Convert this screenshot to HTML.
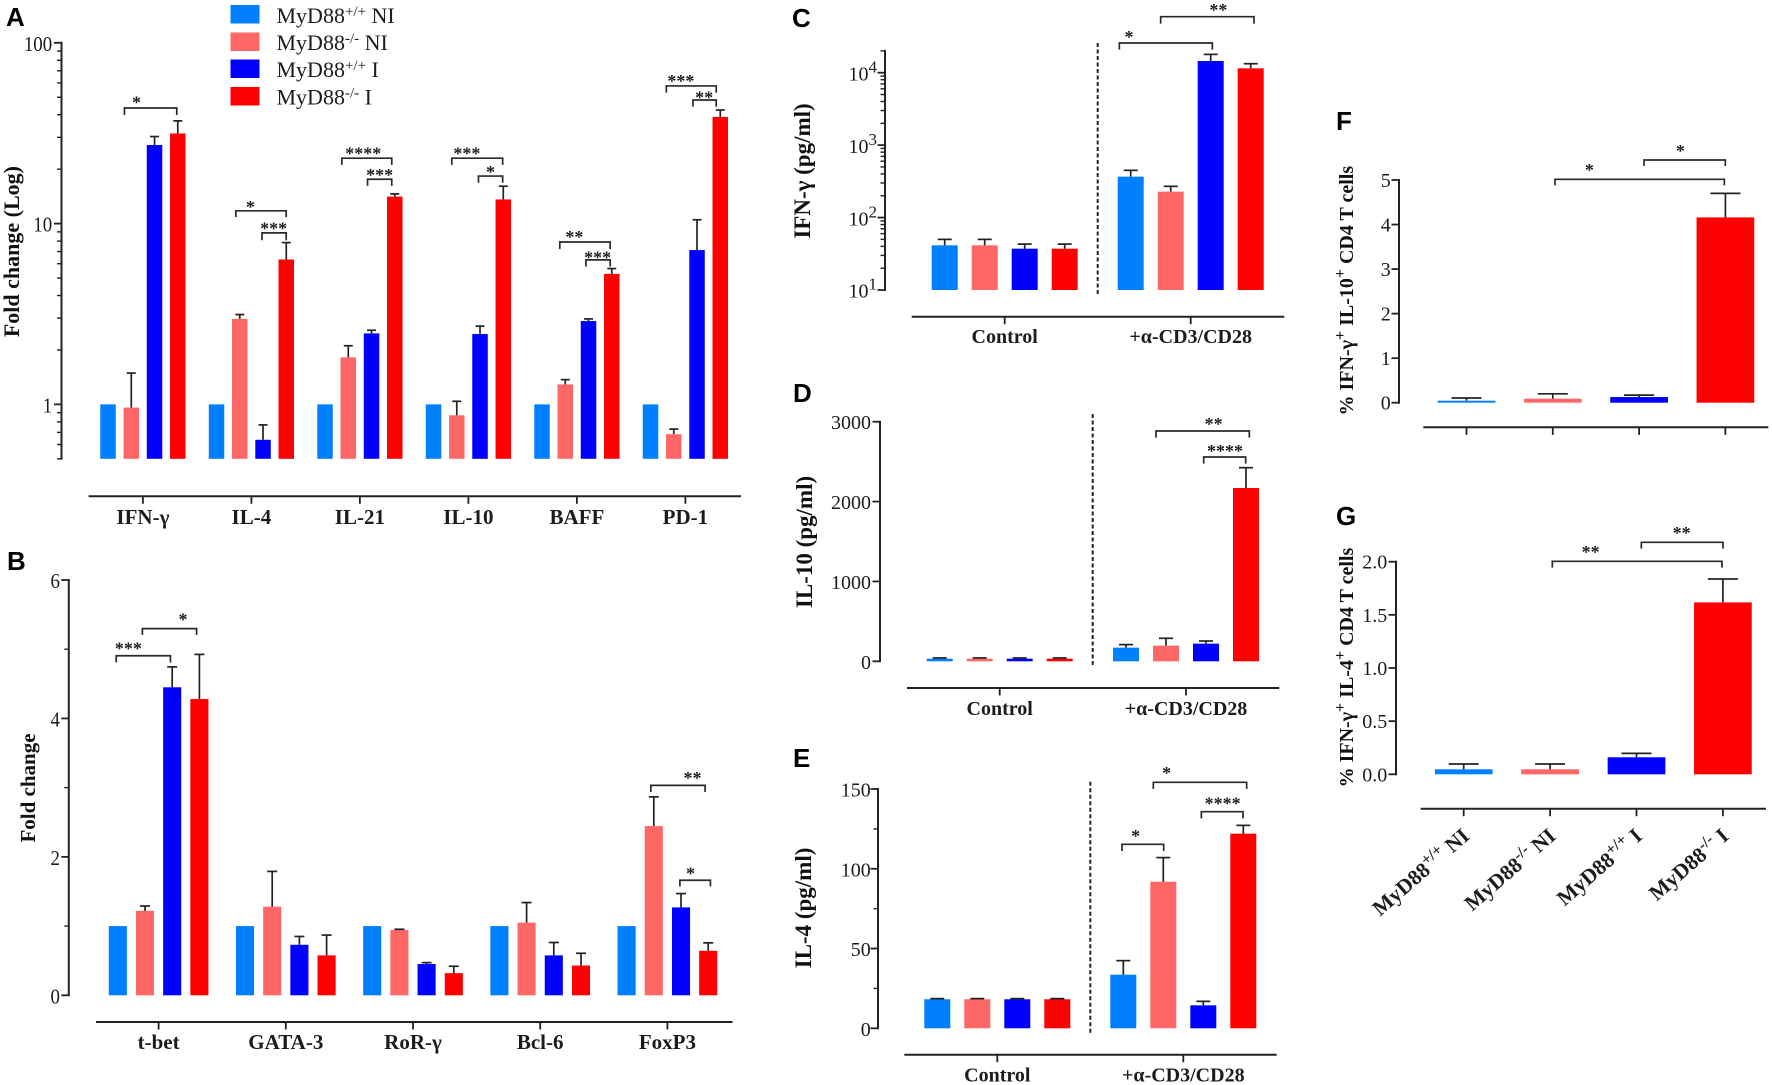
<!DOCTYPE html>
<html lang="en">
<head>
<meta charset="utf-8">
<title>MyD88 cytokine bar charts</title>
<style>
html,body{margin:0;padding:0;background:#fff;}
svg{display:block;}
text{font-family:"Liberation Serif",serif;fill:#1c1c1c;}
.panel-letter{font-family:"Liberation Sans",sans-serif;font-weight:700;font-size:26px;fill:#000;}
.title{font-weight:700;text-anchor:middle;fill:#111;}
.legend-text{font-size:22px;}
</style>
</head>
<body>
<svg id="figure" xmlns="http://www.w3.org/2000/svg" width="1772" height="1085" viewBox="0 0 1772 1085">
  <rect width="1772" height="1085" fill="#fff"/>

  <text class="panel-letter" x="6" y="26">A</text>
  <text class="panel-letter" x="7" y="570">B</text>
  <text class="panel-letter" x="792" y="27">C</text>
  <text class="panel-letter" x="793" y="402">D</text>
  <text class="panel-letter" x="793" y="767">E</text>
  <text class="panel-letter" x="1336" y="130">F</text>
  <text class="panel-letter" x="1336" y="525">G</text>

  <g>
    <g>
      <rect x="230.5" y="5" width="29" height="18.5" fill="#0080ff"/>
      <text class="legend-text" x="276.5" y="23">MyD88<tspan dy="-7" font-size="15">+/+</tspan><tspan dy="7"> NI</tspan></text>
    </g>
    <g>
      <rect x="230.5" y="32.5" width="29" height="18.5" fill="#ff6666"/>
      <text class="legend-text" x="276.5" y="50">MyD88<tspan dy="-7" font-size="15">-/-</tspan><tspan dy="7"> NI</tspan></text>
    </g>
    <g>
      <rect x="230.5" y="59.5" width="29" height="18.5" fill="#0000ff"/>
      <text class="legend-text" x="276.5" y="77">MyD88<tspan dy="-7" font-size="15">+/+</tspan><tspan dy="7"> I</tspan></text>
    </g>
    <g>
      <rect x="230.5" y="87" width="29" height="18.5" fill="#ff0000"/>
      <text class="legend-text" x="276.5" y="104.5">MyD88<tspan dy="-7" font-size="15">-/-</tspan><tspan dy="7"> I</tspan></text>
    </g>
  </g>

  <text class="title" font-size="22" transform="translate(19 251.6) rotate(-90)">Fold change (Log)</text>
  <text class="title" font-size="21" transform="translate(35 788) rotate(-90)">Fold change</text>
  <text class="title" font-size="23" transform="translate(810 171) rotate(-90)">IFN-γ (pg/ml)</text>
  <text class="title" font-size="23" transform="translate(812 542) rotate(-90)">IL-10 (pg/ml)</text>
  <text class="title" font-size="23" transform="translate(811 908) rotate(-90)">IL-4 (pg/ml)</text>
  <text class="title" font-size="20" transform="translate(1353 290.7) rotate(-90)">% IFN-γ<tspan dy="-8" font-size="16">+</tspan><tspan dy="8"> IL-10</tspan><tspan dy="-8" font-size="16">+</tspan><tspan dy="8"> CD4 T cells</tspan></text>
  <text class="title" font-size="20" transform="translate(1353 667.6) rotate(-90)">% IFN-γ<tspan dy="-8" font-size="16">+</tspan><tspan dy="8"> IL-4</tspan><tspan dy="-8" font-size="16">+</tspan><tspan dy="8"> CD4 T cells</tspan></text>
</svg>

<script>
// ---------- shared series ----------
const seriesNames = ['wt-ni', 'ko-ni', 'wt-i', 'ko-i'];
const seriesColors = ['#0080ff', '#ff6666', '#0000ff', '#ff0000'];

// ---------- panel A ----------
const aCategories = ['IFN-γ', 'IL-4', 'IL-21', 'IL-10', 'BAFF', 'PD-1'];
const aMeans = [
  [1, 0.96, 27.2, 31.5],
  [1, 2.97, 0.637, 6.33],
  [1, 1.82, 2.47, 14.1],
  [1, 0.87, 2.45, 13.6],
  [1, 1.29, 2.89, 5.27],
  [1, 0.684, 7.14, 38.9]
];
const aErrorTops = [
  [null, 1.49, 30.3, 37],
  [null, 3.14, 0.77, 7.85],
  [null, 2.11, 2.57, 14.6],
  [null, 1.04, 2.71, 16.1],
  [null, 1.37, 2.97, 5.64],
  [null, 0.73, 10.5, 42.5]
];
const aMajorTicks = [1, 10, 100];
const aMinorTicks = [0.5, 0.6, 0.7, 0.8, 0.9, 2, 3, 4, 5, 6, 7, 8, 9, 20, 30, 40, 50, 60, 70, 80, 90];
const aTickLabels = ['1', '10', '100'];

// ---------- panel B ----------
const bCategories = ['t-bet', 'GATA-3', 'RoR-γ', 'Bcl-6', 'FoxP3'];
const bMeans = [
  [1, 1.22, 4.45, 4.28],
  [1, 1.28, 0.73, 0.577],
  [1, 0.944, 0.452, 0.32],
  [1, 1.05, 0.577, 0.43],
  [1, 2.445, 1.27, 0.643]
];
const bErrorTops = [
  [null, 1.29, 4.745, 4.925],
  [null, 1.79, 0.85, 0.87],
  [null, 0.954, 0.472, 0.42],
  [null, 1.34, 0.763, 0.607],
  [null, 2.867, 1.47, 0.758]
];
const bMajorTicks = [0, 2, 4, 6];
const bMinorTicks = [1, 3, 5];
const bTickLabels = ['0', '2', '4', '6'];

// ---------- panel C ----------
const cCategories = ['Control', '+α-CD3/CD28'];
const cMeans = [
  [41.4, 41.4, 37.2, 37.2],
  [367, 228, 14500, 11490]
];
const cErrorTops = [
  [50, 50, 43, 43],
  [449, 270, 17900, 13300]
];
const cMajorTicks = [10, 100, 1000, 10000];
const cMinorTicks = [20, 30, 40, 50, 60, 70, 80, 90, 200, 300, 400, 500, 600, 700, 800, 900, 2000, 3000, 4000, 5000, 6000, 7000, 8000, 9000, 20000];
const cTickExponents = ['1', '2', '3', '4'];

// ---------- panel D ----------
const dCategories = ['Control', '+α-CD3/CD28'];
const dMeans = [
  [33, 33, 33, 33],
  [171, 196, 221, 2170]
];
const dErrorTops = [
  [42, 42, 42, 42],
  [209, 288, 254, 2424]
];
const dMajorTicks = [0, 1000, 2000, 3000];
const dTickLabels = ['0', '1000', '2000', '3000'];

// ---------- panel E ----------
const eCategories = ['Control', '+α-CD3/CD28'];
const eMeans = [
  [18.2, 18.2, 18.2, 18.2],
  [33.6, 91.9, 14.4, 122]
];
const eErrorTops = [
  [18.6, 18.6, 18.6, 18.6],
  [42.4, 107, 16.9, 127.2]
];
const eMajorTicks = [0, 50, 100, 150];
const eMinorTicks = [25, 75, 125];
const eTickLabels = ['0', '50', '100', '150'];

// ---------- panel F ----------
const fMeans = [0.045, 0.09, 0.127, 4.16];
const fErrorTops = [0.105, 0.2, 0.17, 4.7];
const fMajorTicks = [0, 1, 2, 3, 4, 5];
const fTickLabels = ['0', '1', '2', '3', '4', '5'];

// ---------- panel G ----------
const gMeans = [0.047, 0.047, 0.16, 1.617];
const gErrorTops = [0.097, 0.097, 0.197, 1.837];
const gMajorTicks = [0, 0.5, 1, 1.5, 2];
const gTickLabels = ['0.0', '0.5', '1.0', '1.5', '2.0'];
const gGenotypes = ['+/+', '-/-', '+/+', '-/-'];
const gConditions = [' NI', ' NI', ' I', ' I'];

// ---------- helpers ----------
const SVG_NS = 'http://www.w3.org/2000/svg';
const root = document.getElementById('figure');
const INK = '#222';

function add(parent, tag, attrs, text) {
  const el = document.createElementNS(SVG_NS, tag);
  for (const k in attrs) el.setAttribute(k, attrs[k]);
  if (text !== undefined) el.textContent = text;
  parent.appendChild(el);
  return el;
}
function linearScale(dMin, dMax, yBottom, yTop) {
  return v => yBottom + (v - dMin) / (dMax - dMin) * (yTop - yBottom);
}
function logScale(dMin, dMax, yBottom, yTop) {
  const a = Math.log10(dMin), b = Math.log10(dMax);
  return v => yBottom + (Math.log10(v) - a) / (b - a) * (yTop - yBottom);
}
function drawYAxis(g, cfg) {
  const axis = add(g, 'line', {x1: cfg.axisX, x2: cfg.axisX, y1: cfg.yScale(cfg.domain[1]), y2: cfg.yScale(cfg.domain[0]), stroke: INK, 'stroke-width': 2, 'stroke-linecap': 'square'});
  
  
  (cfg.minor || []).forEach(v => {
    const t = add(g, 'line', {x1: cfg.axisX - 4.5, x2: cfg.axisX, y1: cfg.yScale(v), y2: cfg.yScale(v), stroke: INK, 'stroke-width': 1.4});
    
    
  });
  cfg.major.forEach((v, i) => {
    const y = cfg.yScale(v);
    const t = add(g, 'line', {x1: cfg.axisX - 7.5, x2: cfg.axisX, y1: y, y2: y, stroke: INK, 'stroke-width': 1.8});
    
    
    const lab = add(g, 'text', {'text-anchor': 'end', 'font-size': cfg.fontSize, transform: 'translate(' + cfg.labelX + ' ' + (y + cfg.labelDy) + ') scale(' + (cfg.squeeze || 1) + ' 1)'});
    
    
    if (cfg.exponents) {
      add(lab, 'tspan', {}, '10');
      add(lab, 'tspan', {dy: -8, 'font-size': 17}, cfg.exponents[i]);
    } else {
      lab.textContent = cfg.labels[i];
    }
  });
}
function drawXAxis(g, cfg) {
  const axis = add(g, 'line', {x1: cfg.x1, x2: cfg.x2, y1: cfg.y, y2: cfg.y, stroke: INK, 'stroke-width': 2});
  
  
  cfg.centers.forEach((cx, i) => {
    const t = add(g, 'line', {x1: cx, x2: cx, y1: cfg.y, y2: cfg.y + 7.5, stroke: INK, 'stroke-width': 1.8});
    
    
    if (cfg.labels) {
      const lab = add(g, 'text', {x: cx, y: cfg.labelY, 'text-anchor': 'middle', 'font-size': cfg.fontSize, 'font-weight': 700, fill: '#111'}, cfg.labels[i]);
      
      
    }
  });
}
function drawBar(g, xLeft, width, yTop, yBase, color, label) {
  const bar = add(g, 'rect', {x: xLeft, y: yTop, width: width, height: Math.max(0, yBase - yTop), fill: color});
  
  
}
function drawError(g, cx, yMean, yTop, capWidth, label) {
  const stem = add(g, 'line', {x1: cx, x2: cx, y1: yMean, y2: yTop, stroke: INK, 'stroke-width': 1.7});
  
  
  const cap = add(g, 'line', {x1: cx - capWidth / 2, x2: cx + capWidth / 2, y1: yTop, y2: yTop, stroke: INK, 'stroke-width': 1.7});
  
  
}
function drawGroupedBars(g, cfg) {
  const base = cfg.yScale(cfg.domain[0]);
  cfg.means.forEach((row, gi) => {
    row.forEach((v, si) => {
      const cx = cfg.centers[gi] + (si - 1.5) * cfg.pitch;
      const label = 'group' + gi + '-' + seriesNames[si];
      drawBar(g, cx - cfg.barWidth / 2, cfg.barWidth, cfg.yScale(v), base, seriesColors[si], label);
      const top = cfg.errors[gi][si];
      if (top !== null) drawError(g, cx, cfg.yScale(v), cfg.yScale(top), cfg.cap, label);
    });
  });
}
function drawSingleBars(g, cfg) {
  const base = cfg.yScale(0);
  cfg.means.forEach((v, i) => {
    const cx = cfg.centers[i];
    drawBar(g, cx - cfg.barWidth / 2, cfg.barWidth, cfg.yScale(v), base, seriesColors[i], seriesNames[i]);
    drawError(g, cx, cfg.yScale(v), cfg.yScale(cfg.errors[i]), cfg.cap, seriesNames[i]);
  });
}
function drawDivider(g, x, y1, y2) {
  const d = add(g, 'line', {x1: x, x2: x, y1: y1, y2: y2, stroke: INK, 'stroke-width': 2, 'stroke-dasharray': '4 2.5'});
  
  
}
// map = crop scale/offset used to read annotation positions from the reference
function bracket(g, m, x1, x2, y, yDrop, stars, sx, sy) {
  const X = v => v / m.sx + m.ox, Y = v => v / m.sy + m.oy;
  const p = add(g, 'path', {d: 'M' + X(x1) + ' ' + Y(yDrop) + 'L' + X(x1) + ' ' + Y(y) + 'L' + X(x2) + ' ' + Y(y) + 'L' + X(x2) + ' ' + Y(yDrop), fill: 'none', stroke: '#2a2a2a', 'stroke-width': 1.7});
  
  
  const s = add(g, 'text', {x: X(sx), y: Y(sy) + 8.5, 'text-anchor': 'middle', 'font-size': 18, 'font-weight': 700, fill: '#333'}, stars);
  
  
}
function panelGroup(name) {
  const g = add(root, 'g', {});
  
  
  return g;
}
function evenCenters(n, first, step) {
  const out = [];
  for (let i = 0; i < n; i++) out.push(first + i * step);
  return out;
}

// ---------- panel A ----------
(function () {
  const g = panelGroup('panel-a-chart');
  const domain = [0.5, 100];
  const yScale = logScale(0.5, 100, 458.8, 42.8);
  const centers = evenCenters(aCategories.length, 142.9, 108.5);
  drawYAxis(g, {axisX: 61.5, yScale, domain, major: aMajorTicks, minor: aMinorTicks, labels: aTickLabels, labelX: 52.2, labelDy: 8, fontSize: 21, squeeze: 0.9});
  drawXAxis(g, {x1: 88.6, x2: 741, y: 496.3, centers, labels: aCategories, labelY: 524, fontSize: 21});
  drawGroupedBars(g, {means: aMeans, errors: aErrorTops, yScale, domain, centers, pitch: 23.25, barWidth: 15.5, cap: 9});
  const m = {sx: 2.065, sy: 2.851, ox: 0, oy: 0};
  bracket(g, m, 257, 365, 308, 328, '*', 282, 285);
  bracket(g, m, 487, 591, 601, 619, '*', 517, 583);
  bracket(g, m, 541, 591, 664, 685, '***', 565, 645);
  bracket(g, m, 706, 809, 451, 470, '****', 750, 430);
  bracket(g, m, 759, 809, 511, 530, '***', 784, 492);
  bracket(g, m, 933, 1038, 451, 470, '***', 964, 430);
  bracket(g, m, 988, 1038, 502, 521, '*', 1013, 483);
  bracket(g, m, 1156, 1260, 690, 710, '**', 1186, 669);
  bracket(g, m, 1210, 1260, 741, 760, '***', 1234, 727);
  bracket(g, m, 1376, 1479, 245, 264, '***', 1406, 224);
  bracket(g, m, 1431, 1479, 285, 304, '**', 1454, 271);
})();

// ---------- panel B ----------
(function () {
  const g = panelGroup('panel-b-chart');
  const domain = [0, 6];
  const yScale = linearScale(0, 6, 995.3, 580);
  const centers = evenCenters(bCategories.length, 158.6, 127.2);
  drawYAxis(g, {axisX: 68.8, yScale, domain, major: bMajorTicks, minor: bMinorTicks, labels: bTickLabels, labelX: 60, labelDy: 8, fontSize: 21, squeeze: 0.9});
  drawXAxis(g, {x1: 96, x2: 732.5, y: 1022, centers, labels: bCategories, labelY: 1049, fontSize: 21});
  drawGroupedBars(g, {means: bMeans, errors: bErrorTops, yScale, domain, centers, pitch: 27.2, barWidth: 18.1, cap: 10});
  const m = {sx: 2.065, sy: 2.877, ox: 0, oy: 540};
  bracket(g, m, 240, 352, 333, 352, '***', 265, 305);
  bracket(g, m, 294, 406, 255, 273, '*', 378, 222);
  bracket(g, m, 1344, 1456, 706, 725, '**', 1430, 677);
  bracket(g, m, 1404, 1467, 979, 997, '*', 1426, 953);
})();

// ---------- panel C ----------
(function () {
  const g = panelGroup('panel-c-chart');
  const domain = [10, 20000];
  const yScale = logScale(10, 10000, 290, 72.7);
  const centers = [1004.7, 1190.7];
  drawYAxis(g, {axisX: 885, yScale, domain, major: cMajorTicks, minor: cMinorTicks, exponents: cTickExponents, labelX: 877, labelDy: 7.7, fontSize: 20});
  drawXAxis(g, {x1: 911.7, x2: 1284.3, y: 316.7, centers, labels: cCategories, labelY: 343, fontSize: 20});
  drawGroupedBars(g, {means: cMeans, errors: cErrorTops, yScale, domain, centers, pitch: 40, barWidth: 26, cap: 14});
  drawDivider(g, 1097.7, 43, 295);
  const m = {sx: 3, sy: 3, ox: 770, oy: 0};
  bracket(g, m, 1048, 1327, 129, 149, '*', 1077, 103);
  bracket(g, m, 1172, 1452, 50, 71, '**', 1345, 22);
})();

// ---------- panel D ----------
(function () {
  const g = panelGroup('panel-d-chart');
  const domain = [0, 3000];
  const yScale = linearScale(0, 3000, 661.3, 421.7);
  const centers = [999.7, 1186];
  drawYAxis(g, {axisX: 880, yScale, domain, major: dMajorTicks, labels: dTickLabels, labelX: 871, labelDy: 7.5, fontSize: 20});
  drawXAxis(g, {x1: 907, x2: 1279.3, y: 688, centers, labels: dCategories, labelY: 715, fontSize: 20});
  drawGroupedBars(g, {means: dMeans, errors: dErrorTops, yScale, domain, centers, pitch: 40, barWidth: 26, cap: 14});
  drawDivider(g, 1092.7, 414, 665.7);
  const m = {sx: 3, sy: 3, ox: 770, oy: 370};
  bracket(g, m, 1158, 1438, 183, 203, '**', 1331, 155);
  bracket(g, m, 1301, 1427, 261, 281, '****', 1365, 236);
})();

// ---------- panel E ----------
(function () {
  const g = panelGroup('panel-e-chart');
  const domain = [0, 150];
  const yScale = linearScale(0, 150, 1028.3, 789);
  const centers = [997.3, 1183.3];
  drawYAxis(g, {axisX: 878, yScale, domain, major: eMajorTicks, minor: eMinorTicks, labels: eTickLabels, labelX: 870.7, labelDy: 7.5, fontSize: 20});
  drawXAxis(g, {x1: 904.3, x2: 1276.7, y: 1054.7, centers, labels: eCategories, labelY: 1081.7, fontSize: 20});
  drawGroupedBars(g, {means: eMeans, errors: eErrorTops, yScale, domain, centers, pitch: 40, barWidth: 26, cap: 14});
  drawDivider(g, 1090.3, 781.7, 1033);
  const m = {sx: 3, sy: 3, ox: 770, oy: 730};
  bracket(g, m, 1150, 1430, 157, 177, '*', 1190, 122);
  bracket(g, m, 1294, 1419, 245, 265, '****', 1358, 213);
  bracket(g, m, 1056, 1181, 343, 363, '*', 1097, 310);
})();

// ---------- panel F ----------
(function () {
  const g = panelGroup('panel-f-chart');
  const domain = [0, 5];
  const yScale = linearScale(0, 5, 402.7, 180);
  const centers = evenCenters(fMeans.length, 1466.5, 86.3);
  drawYAxis(g, {axisX: 1399, yScale, domain, major: fMajorTicks, labels: fTickLabels, labelX: 1390.7, labelDy: 7, fontSize: 20});
  drawXAxis(g, {x1: 1423.3, x2: 1768.3, y: 427.3, centers});
  drawSingleBars(g, {means: fMeans, errors: fErrorTops, yScale, centers, barWidth: 57.7, cap: 30});
  const m = {sx: 3, sy: 3, ox: 1300, oy: 90};
  bracket(g, m, 765, 1273, 268, 286, '*', 868, 232);
  bracket(g, m, 1032, 1276, 210, 228, '*', 1141, 175);
})();

// ---------- panel G ----------
(function () {
  const g = panelGroup('panel-g-chart');
  const domain = [0, 2];
  const yScale = linearScale(0, 2, 774.3, 561.7);
  const centers = evenCenters(gMeans.length, 1463.7, 86.4);
  drawYAxis(g, {axisX: 1396, yScale, domain, major: gMajorTicks, labels: gTickLabels, labelX: 1387.3, labelDy: 7, fontSize: 20});
  drawXAxis(g, {x1: 1420.7, x2: 1766, y: 808.7, centers});
  drawSingleBars(g, {means: gMeans, errors: gErrorTops, yScale, centers, barWidth: 57.7, cap: 30});
  const m = {sx: 3, sy: 3, ox: 1300, oy: 490};
  bracket(g, m, 757, 1266, 214, 233, '**', 872, 178);
  bracket(g, m, 1024, 1269, 157, 176, '**', 1145, 121);
  centers.forEach((cx, i) => {
    const lab = add(g, 'text', {'text-anchor': 'end', 'font-size': 21.5, 'font-weight': 700, fill: '#111', transform: 'translate(' + (cx + 7) + ' 838) rotate(-41)'});
    
    
    add(lab, 'tspan', {}, 'MyD88');
    add(lab, 'tspan', {dy: -8, 'font-size': 16}, gGenotypes[i]);
    add(lab, 'tspan', {dy: 8}, gConditions[i]);
  });
})();
</script>
</body>
</html>
